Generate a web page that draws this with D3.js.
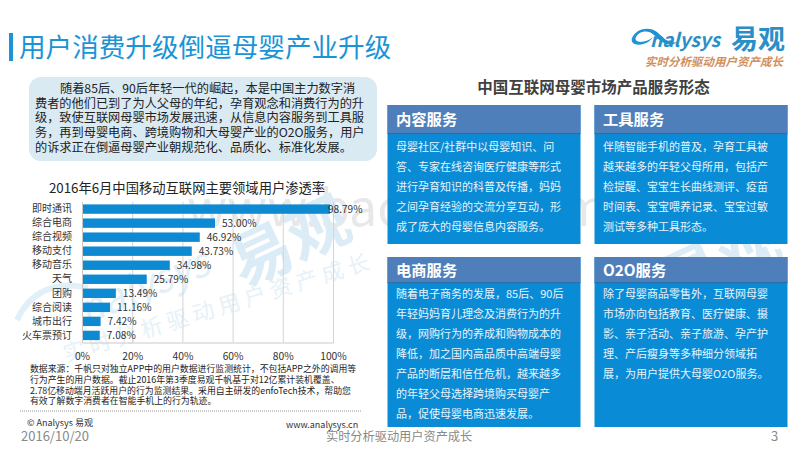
<!DOCTYPE html>
<html>
<head>
<meta charset="utf-8">
<title>用户消费升级倒逼母婴产业升级</title>
<script src="https://cdn.jsdelivr.net/npm/d3@7"></script>
<style>
  html, body { margin: 0; padding: 0; background: #fff; }
  text { font-family: "Noto Sans CJK SC", "Noto Sans", sans-serif; }
</style>
</head>
<body>
<div id="chart"></div>
<script>
// chart values
var categories = ["即时通讯", "综合电商", "综合视频", "移动支付", "移动音乐", "天气", "团购", "综合阅读", "城市出行", "火车票预订"];
var penetration = [98.79, 53.00, 46.92, 43.73, 34.98, 25.79, 13.49, 11.16, 7.42, 7.08];
var tickValues = [0, 20, 40, 60, 80, 100];

// text blocks
var introLines = [
  "随着85后、90后年轻一代的崛起，本是中国主力数字消",
  "费者的他们已到了为人父母的年纪，孕育观念和消费行为的升",
  "级，致使互联网母婴市场发展迅速，从信息内容服务到工具服",
  "务，再到母婴电商、跨境购物和大母婴产业的O2O服务，用户",
  "的诉求正在倒逼母婴产业朝规范化、品质化、标准化发展。"
];
var sourceLines = [
  "数据来源：千帆只对独立APP中的用户数据进行监测统计，不包括APP之外的调用等",
  "行为产生的用户数据。截止2016年第3季度易观千帆基于对12亿累计装机覆盖、",
  "2.78亿移动端月活跃用户的行为监测结果。采用自主研发的enfoTech技术，帮助您",
  "有效了解数字消费者在智能手机上的行为轨迹。"
];
var cardTitles = ["内容服务", "工具服务", "电商服务", "O2O服务"];
var cardLines = [
  ["母婴社区/社群中以母婴知识、问", "答、专家在线咨询医疗健康等形式", "进行孕育知识的科普及传播，妈妈", "之间孕育经验的交流分享互动，形", "成了庞大的母婴信息内容服务。"],
  ["伴随智能手机的普及，孕育工具被", "越来越多的年轻父母所用，包括产", "检提醒、宝宝生长曲线测评、疫苗", "时间表、宝宝喂养记录、宝宝过敏", "测试等多种工具形态。"],
  ["随着电子商务的发展，85后、90后", "年轻妈妈育儿理念及消费行为的升", "级，网购行为的养成和购物成本的", "降低，加之国内高品质中高端母婴", "产品的断层和信任危机，越来越多", "的年轻父母选择跨境购买母婴产", "品，促使母婴电商迅速发展。"],
  ["除了母婴商品零售外，互联网母婴", "市场亦向包括教育、医疗健康、摄", "影、亲子活动、亲子旅游、孕产护", "理、产后瘦身等多种细分领域拓", "展，为用户提供大母婴O2O服务。"]
];

var width = 800, height = 450;

var svg = d3.select("#chart").append("svg")
  .attr("width", width)
  .attr("height", height)
  .style("display", "block");

// watermarks go in first, everything else sits on top
svg.append("text").attr("x", 187).attr("y", 226)
  .attr("font-size", 50).attr("font-family", "Open Sans").attr("fill", "#e8e8e8")
  .text("www.baogao.com");

svg.append("path")
  .attr("d", "M17,320 C30,292 55,280 88,288")
  .attr("fill", "none").attr("stroke", "#e1eff8").attr("stroke-width", 6);
svg.append("text").attr("transform", "translate(85,325) rotate(-22)")
  .attr("font-size", 40).attr("font-family", "Open Sans").attr("font-style", "italic").attr("fill", "#e1eff8")
  .text("nalysys");
svg.append("text").attr("transform", "translate(243,288) rotate(-25)")
  .attr("font-size", 62).attr("font-weight", 700).attr("fill", "#dcecf7")
  .text("易观");
svg.append("text").attr("transform", "translate(66,362) rotate(-17)")
  .attr("font-size", 22).attr("letter-spacing", 5).attr("fill", "#e6f1f8")
  .text("实时分析驱动用户资产成长");
// second copy only shows in the gap between the cards
svg.append("text").attr("transform", "translate(673,308) rotate(-25)")
  .attr("font-size", 62).attr("font-weight", 700).attr("fill", "#dcecf7")
  .text("易观");

// title
svg.append("rect").attr("x", 9).attr("y", 33).attr("width", 4).attr("height", 28).attr("fill", "#1b94d6");
svg.append("text").attr("x", 19).attr("y", 57)
  .attr("font-size", 26.6).attr("fill", "#1b94d6")
  .text("用户消费升级倒逼母婴产业升级");

// logo
var logo = svg.append("g");
logo.append("path")
  .attr("d", "M632,38 C636,28 650,26 657,32 C664,38 668,44 678,42 C668,48 661,42 654,35 C648,29 639,31 636,37 C633,43 645,44 653,37 C647,47 629,47 632,38 Z")
  .attr("fill", "#1b94d6");
logo.append("text").attr("x", 650).attr("y", 47)
  .attr("font-size", 19).attr("font-family", "Open Sans").attr("font-style", "italic").attr("font-weight", 600).attr("fill", "#2a8fc9")
  .text("nalysys");
logo.append("text").attr("x", 731).attr("y", 49)
  .attr("font-size", 27).attr("font-weight", 700).attr("fill", "#2a8fc9")
  .text("易观");
logo.append("text").attr("x", 645).attr("y", 66)
  .attr("font-size", 11.5).attr("font-weight", 700).attr("font-style", "italic").attr("fill", "#d0905c")
  .text("实时分析驱动用户资产成长");

// intro box
svg.append("rect").attr("x", 29).attr("y", 77).attr("width", 348).attr("height", 84).attr("rx", 12)
  .attr("fill", "#daeaf3");
svg.selectAll(".intro").data(introLines).enter().append("text")
  .attr("class", "intro")
  .attr("x", function (d, i) { return i == 0 ? 60 : 35; })
  .attr("y", function (d, i) { return 93 + i * 14.7; })
  .attr("font-size", 12.2).attr("fill", "#222")
  .text(function (d) { return d; });

// bar chart
var x = d3.scaleLinear().domain([0, 100]).range([82, 333]);
var y = d3.scaleBand().domain(categories).range([202, 342.5]).paddingInner(0.33).paddingOuter(0.17);

svg.append("text").attr("x", 187).attr("y", 193).attr("text-anchor", "middle")
  .attr("font-size", 13.3).attr("fill", "#222")
  .text("2016年6月中国移动互联网主要领域用户渗透率");

var xAxis = d3.axisBottom(x).tickValues(tickValues).tickSize(-140.5).tickPadding(10)
  .tickFormat(function (d) { return d + "%"; });
var gx = svg.append("g").attr("transform", "translate(0,342.5)").call(xAxis);
gx.select(".domain").attr("stroke", "#c9c9c9");
gx.selectAll(".tick line").attr("stroke", "#d4d4d4");
gx.selectAll("text").attr("font-size", 10.3).attr("fill", "#333").attr("font-family", "Open Sans");

svg.selectAll(".bar").data(categories).enter().append("rect")
  .attr("class", "bar")
  .attr("x", x(0))
  .attr("y", function (d) { return y(d); })
  .attr("width", function (d, i) { return x(penetration[i]) - x(0); })
  .attr("height", y.bandwidth())
  .attr("fill", "#0d8ad2");

var yAxis = d3.axisLeft(y).tickSize(0).tickPadding(10);
var gy = svg.append("g").attr("transform", "translate(82,0)").call(yAxis);
gy.select(".domain").attr("stroke", "#c9c9c9");
gy.selectAll("text").attr("font-size", 10).attr("fill", "#333");

// the longest bar has its label pulled back over the bar end
svg.selectAll(".val").data(categories).enter().append("text")
  .attr("class", "val")
  .attr("x", function (d, i) { return Math.min(x(penetration[i]) + 7, 328); })
  .attr("y", function (d) { return y(d) + y.bandwidth() / 2 + 4; })
  .attr("font-size", 10.1).attr("fill", "#333").attr("font-family", "Open Sans")
  .text(function (d, i) { return penetration[i].toFixed(2) + "%"; });

// source note
svg.selectAll(".src").data(sourceLines).enter().append("text")
  .attr("class", "src")
  .attr("x", 30)
  .attr("y", function (d, i) { return 372 + i * 10.8; })
  .attr("font-size", 8.9).attr("fill", "#222")
  .text(function (d) { return d; });

// footer
svg.append("line").attr("x1", 20).attr("x2", 361).attr("y1", 411).attr("y2", 411)
  .attr("stroke", "#999").attr("stroke-dasharray", "1,1");
svg.append("text").attr("x", 27).attr("y", 426).attr("font-size", 9).attr("fill", "#333").text("© Analysys 易观");
svg.append("text").attr("x", 286).attr("y", 428).attr("font-size", 9).attr("font-family", "Open Sans").attr("fill", "#333").text("www.analysys.cn");
svg.append("text").attr("x", 21).attr("y", 441).attr("font-size", 13).attr("font-family", "Open Sans").attr("fill", "#898989").text("2016/10/20");
svg.append("text").attr("x", 326).attr("y", 441).attr("font-size", 12.2).attr("fill", "#898989").text("实时分析驱动用户资产成长");
svg.append("text").attr("x", 771).attr("y", 441).attr("font-size", 13).attr("font-family", "Open Sans").attr("fill", "#898989").text("3");

// right panel
svg.append("text").attr("x", 593.5).attr("y", 92.5).attr("text-anchor", "middle")
  .attr("font-size", 15.5).attr("font-weight", 700).attr("fill", "#404040")
  .text("中国互联网母婴市场产品服务形态");

var cardX = [387.5, 594.5], cardW = 193;
var cardTop = [105, 257], cardBottom = [244, 427];
var headH = [28, 25], firstLine = [46, 41];

cardTitles.forEach(function (title, i) {
  var cx = cardX[i % 2], row = i < 2 ? 0 : 1;
  var top = cardTop[row], bottom = cardBottom[row];
  svg.append("rect").attr("x", cx).attr("y", top).attr("width", cardW).attr("height", bottom - top).attr("fill", "#0a8bd6");
  svg.append("rect").attr("x", cx).attr("y", top).attr("width", cardW).attr("height", headH[row]).attr("fill", "#4f7fba");
  svg.append("rect").attr("x", cx).attr("y", top + headH[row]).attr("width", cardW).attr("height", 1.2).attr("fill", "#2b6ea8");
  svg.append("text").attr("x", cx + 8.5).attr("y", top + (row == 0 ? 20 : 18.5))
    .attr("font-size", 15.3).attr("font-weight", 700).attr("fill", "#fff").text(title);
  svg.selectAll(".c" + i).data(cardLines[i]).enter().append("text")
    .attr("class", "c" + i)
    .attr("x", cx + 8.5)
    .attr("y", function (d, k) { return top + firstLine[row] + k * 20; })
    .attr("font-size", 11).attr("fill", "#e8f4fb")
    .text(function (d) { return d; });
});
</script>
</body>
</html>
